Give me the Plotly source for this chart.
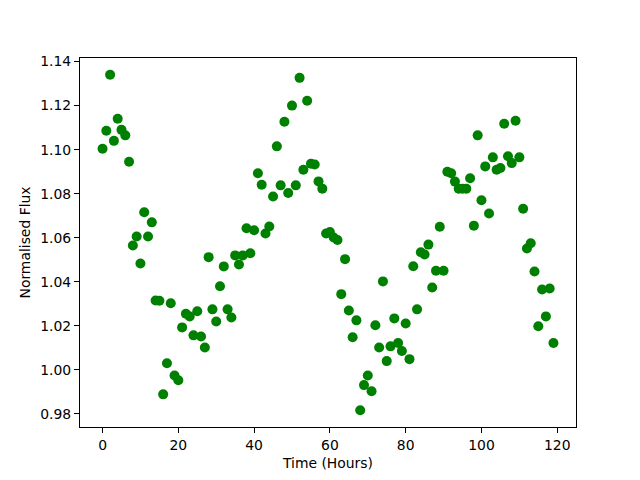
import plotly.graph_objects as go

hours = list(range(120))
flux = [
    1.1004, 1.1086, 1.1340, 1.1040, 1.1140, 1.1090, 1.1065, 1.0945, 1.0565, 1.0606,
    1.0483, 1.0716, 1.0606, 1.0670, 1.0315, 1.0314, 0.9889, 1.0030, 1.0303, 0.9975,
    0.9953, 1.0193, 1.0255, 1.0243, 1.0157, 1.0266, 1.0152, 1.0102, 1.0512, 1.0275,
    1.0220, 1.0380, 1.0470, 1.0275, 1.0238, 1.0520, 1.0479, 1.0520, 1.0643, 1.0530,
    1.0634, 1.0893, 1.0841, 1.0619, 1.0651, 1.0787, 1.1015, 1.0838, 1.1127, 1.0803,
    1.1200, 1.0838, 1.1326, 1.0909, 1.1222, 1.0936, 1.0933, 1.0856, 1.0823, 1.0619,
    1.0626, 1.0601, 1.0590, 1.0344, 1.0503, 1.0270, 1.0148, 1.0225, 0.9817, 0.9931,
    0.9975, 0.9903, 1.0203, 1.0102, 1.0402, 1.0040, 1.0107, 1.0234, 1.0122, 1.0086,
    1.0211, 1.0049, 1.0471, 1.0275, 1.0534, 1.0524, 1.0569, 1.0374, 1.0450, 1.0650,
    1.0450, 1.0900, 1.0893, 1.0855, 1.0823, 1.0823, 1.0823, 1.0870, 1.0655, 1.1065,
    1.0770, 1.0924, 1.0710, 1.0965, 1.0909, 1.0917, 1.1118, 1.0970, 1.0939, 1.1131,
    1.0965, 1.0732, 1.0551, 1.0575, 1.0447, 1.0198, 1.0365, 1.0243, 1.0370, 1.0122,
]
x_ticks = [0, 20, 40, 60, 80, 100, 120]
y_ticks = [0.98, 1.00, 1.02, 1.04, 1.06, 1.08, 1.10, 1.12, 1.14]

fig = go.Figure(go.Scatter(
    x=hours, y=flux, mode="markers",
    marker=dict(color="#008000", size=10, line=dict(width=0)),
))

font = dict(family="DejaVu Sans", size=13.9, color="black")
axis_common = dict(
    showline=True, linecolor="black", linewidth=1.1, mirror=True,
    ticks="outside", ticklen=5, tickwidth=1.1, tickcolor="black",
    showgrid=False, zeroline=False, tickfont=font,
)
xmin, xmax = min(hours), max(hours)
ymin, ymax = min(flux), max(flux)
xm = (xmax - xmin) * 0.05
ym = (ymax - ymin) * 0.05
fig.update_layout(
    width=640, height=480,
    margin=dict(l=80, r=64, t=58, b=53),
    plot_bgcolor="white", paper_bgcolor="white",
    showlegend=False,
    font=font,
    xaxis=dict(axis_common, range=[xmin - xm, xmax + xm], tickvals=x_ticks,
               title=dict(text="Time (Hours)", font=font, standoff=6)),
    yaxis=dict(axis_common, range=[ymin - ym, ymax + ym], tickvals=y_ticks,
               tickformat=".2f",
               title=dict(text="Normalised Flux", font=font, standoff=6)),
)
fig.write_html("out.html", config={"displayModeBar": False},
               post_script="document.body.style.margin='0';document.body.style.overflow='hidden';")
